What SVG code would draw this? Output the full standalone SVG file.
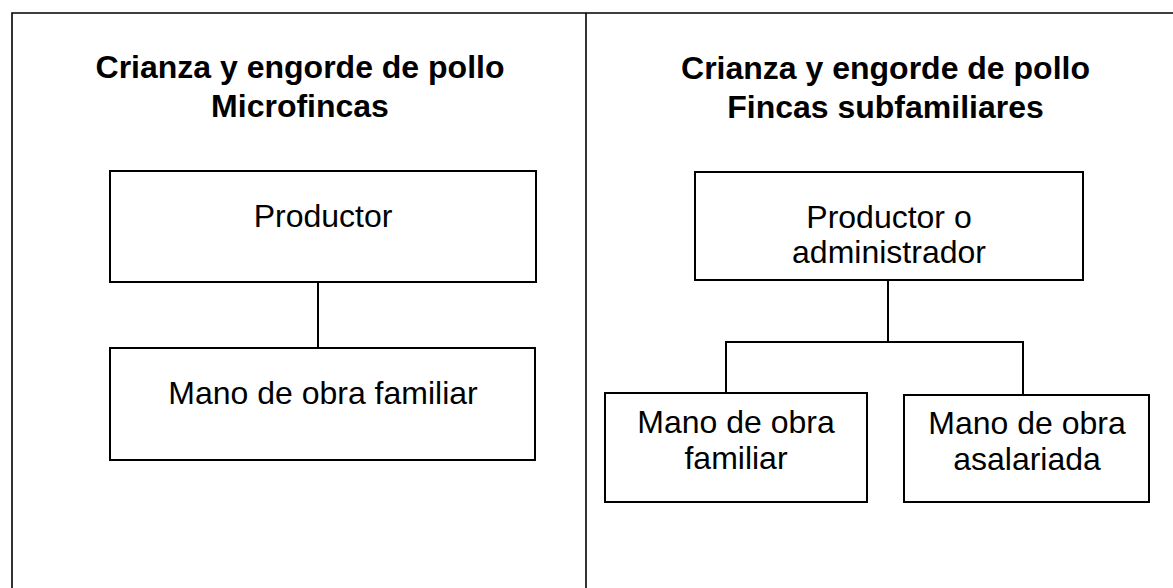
<svg xmlns="http://www.w3.org/2000/svg" width="1173" height="588" viewBox="0 0 1173 588">
<style>
.frame{fill:none;stroke:#000;stroke-width:1.6}
.box{fill:#fff;stroke:#000;stroke-width:2}
.conn{fill:none;stroke:#000;stroke-width:2}
.title{font-family:"Liberation Sans",Arial,sans-serif;font-weight:bold;font-size:32px;fill:#000;text-anchor:middle}
.lbl{font-family:"Liberation Sans",Arial,sans-serif;font-size:32px;fill:#000;text-anchor:middle}
</style>
<rect width="1173" height="588" fill="#fff"/>
<g id="frame">
<path class="frame" d="M12,590 V13 H1175"/>
<path class="frame" d="M586,13 V590"/>
</g>
<g id="title-left">
<text class="title" x="300" y="78">Crianza y engorde de pollo</text>
<text class="title" x="300" y="117">Microfincas</text>
</g>
<g id="title-right">
<text class="title" x="885.5" y="79">Crianza y engorde de pollo</text>
<text class="title" x="885.5" y="118">Fincas subfamiliares</text>
</g>
<g id="connectors">
<path class="conn" d="M318,282 V348"/>
<path class="conn" d="M888,280 V342"/>
<path class="conn" d="M726,393 V342 H1023 V395"/>
</g>
<g id="productor-left">
<rect class="box" x="110" y="171" width="426" height="111"/>
<text class="lbl" x="323" y="227">Productor</text>
</g>
<g id="mano-familiar-left">
<rect class="box" x="110" y="348" width="425" height="112"/>
<text class="lbl" x="323" y="404">Mano de obra familiar</text>
</g>
<g id="productor-admin">
<rect class="box" x="695" y="172" width="388" height="108"/>
<text class="lbl" x="889" y="228">Productor o</text>
<text class="lbl" x="889" y="263">administrador</text>
</g>
<g id="mano-familiar-right">
<rect class="box" x="605" y="393" width="262" height="109"/>
<text class="lbl" x="736" y="433">Mano de obra</text>
<text class="lbl" x="736" y="469">familiar</text>
</g>
<g id="mano-asalariada">
<rect class="box" x="904" y="395" width="245" height="107"/>
<text class="lbl" x="1027" y="434">Mano de obra</text>
<text class="lbl" x="1027" y="470">asalariada</text>
</g>
</svg>
